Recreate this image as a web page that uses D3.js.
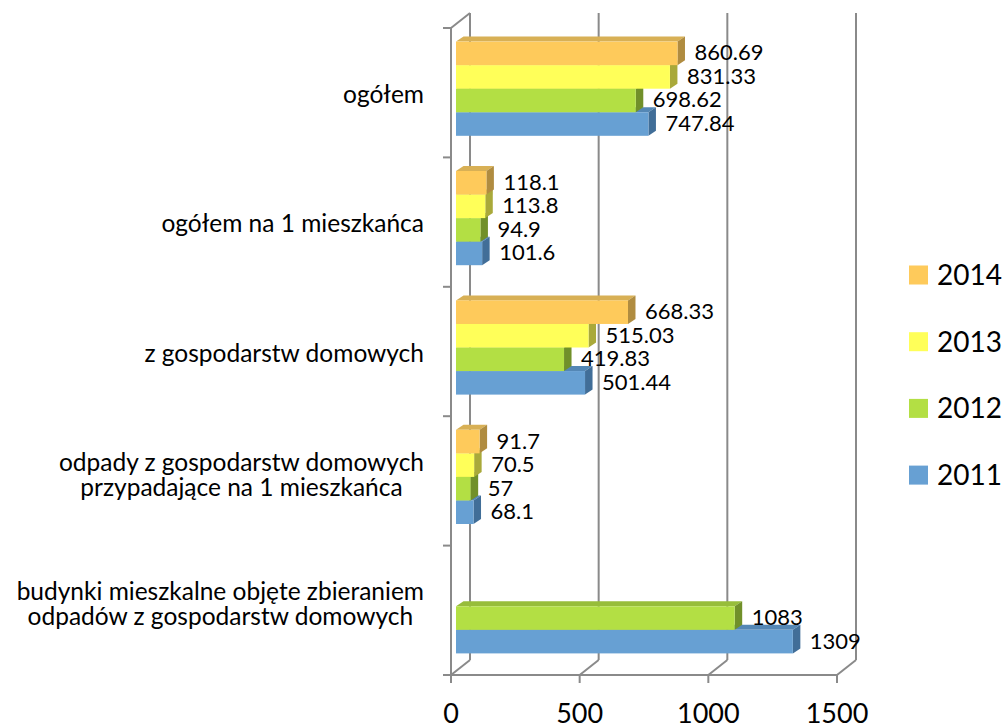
<!DOCTYPE html>
<html>
<head>
<meta charset="utf-8">
<script src="https://cdn.jsdelivr.net/npm/d3@7"></script>
<style>
  body { margin: 0; background: #fff; }
  text { font-family: Lato, "Open Sans", sans-serif; fill: #000; }
</style>
</head>
<body>
<div id="canvas"></div>
<script>
// ////////// DATA /////////////

var categories = [
  "ogółem",
  "ogółem na 1 mieszkańca",
  "z gospodarstw domowych",
  "odpady z gospodarstw domowych przypadające na 1 mieszkańca",
  "budynki mieszkalne objęte zbieraniem odpadów z gospodarstw domowych"
]

// how the category labels wrap
var categoryLines = [
  ["ogółem"],
  ["ogółem na 1 mieszkańca"],
  ["z gospodarstw domowych"],
  ["odpady z gospodarstw domowych", "przypadające na 1 mieszkańca"],
  ["budynki mieszkalne objęte zbieraniem", "odpadów z gospodarstw domowych"]
]

var years = ["2011", "2012", "2013", "2014"]

var values2011 = [747.84, 101.6, 501.44, 68.1, 1309]
var values2012 = [698.62, 94.9, 419.83, 57, 1083]
var values2013 = [831.33, 113.8, 515.03, 70.5, null]
var values2014 = [860.69, 118.1, 668.33, 91.7, null]

var xTicks = [0, 500, 1000, 1500]

var seriesValues = {
  "2011": values2011,
  "2012": values2012,
  "2013": values2013,
  "2014": values2014
}

///////// GLOBAL VARS //////////

var width = 1008,
  height = 728

// depth of the 3d box (floor / walls)
var DX = 19, DY = -15
// bars sit a little behind the front plane and have their own depth
var BX = 5, BY = -4, BDX = 7.5, BDY = -5

var colors = {
  "2014": { front: "#FECA5B", top: "#D8B055", side: "#B08C40" },
  "2013": { front: "#FFFF59", top: "#DADA50", side: "#A9A93A" },
  "2012": { front: "#B3DF44", top: "#97BD3A", side: "#71902A" },
  "2011": { front: "#67A0D3", top: "#5487B5", side: "#416E98" }
}

var gridColor = "#8a8a8a"

var svg = d3.select("#canvas")
  .append("svg")
  .attr("width", width)
  .attr("height", height)
  .style("background-color", "#fff")

// X scale (front plane)
var x = d3.scaleLinear()
  .domain([0, 1500])
  .range([451, 837])

// category bands
var y = d3.scaleBand()
  .domain(categories)
  .range([28, 675])

// series inside a band, 2014 on top
var inner = d3.scaleBand()
  .domain(years.slice().reverse())
  .range([17.6, y.bandwidth() - 17.6])

var top0 = y.range()[0], floor0 = y.range()[1]

///////// WALLS & GRID //////////

var grid = svg.append("g")
  .attr("fill", "none")
  .attr("stroke", gridColor)
  .attr("stroke-width", 2)

// back wall vertical gridlines
grid.selectAll(".vgrid")
  .data(xTicks)
  .join("line")
  .attr("x1", d => x(d) + DX)
  .attr("x2", d => x(d) + DX)
  .attr("y1", top0 + DY)
  .attr("y2", floor0 + DY)

// floor diagonals
grid.selectAll(".diag")
  .data(xTicks)
  .join("line")
  .attr("class", "diag")
  .attr("x1", d => x(d))
  .attr("x2", d => x(d) + DX)
  .attr("y1", floor0)
  .attr("y2", floor0 + DY)

// top of the side wall
grid.append("line")
  .attr("x1", x(0)).attr("y1", top0)
  .attr("x2", x(0) + DX).attr("y2", top0 + DY)

// front floor edge
grid.append("line")
  .attr("x1", x(0)).attr("y1", floor0)
  .attr("x2", x(1500)).attr("y2", floor0)

// front edge of the side wall
grid.append("line")
  .attr("x1", x(0)).attr("y1", top0)
  .attr("x2", x(0)).attr("y2", floor0)

// category ticks
var catTicks = categories.map(c => y(c)).concat([floor0])
grid.selectAll(".ytick")
  .data(catTicks)
  .join("line")
  .attr("class", "ytick")
  .attr("x1", x(0) - 8).attr("x2", x(0))
  .attr("y1", d => d).attr("y2", d => d)

// value ticks
grid.selectAll(".xtick")
  .data(xTicks)
  .join("line")
  .attr("class", "xtick")
  .attr("x1", d => x(d)).attr("x2", d => x(d))
  .attr("y1", floor0).attr("y2", floor0 + 8)

///////// BARS //////////

var bars = []
categories.forEach((c, ci) => {
  years.forEach(yr => {
    var v = seriesValues[yr][ci]
    if (v == null) return
    bars.push({ cat: c, year: yr, value: v })
  })
})

var barG = svg.append("g")

barG.selectAll("g.bar")
  .data(bars)
  .join("g")
  .attr("class", "bar")
  .each(function (d) {
    var g = d3.select(this)
    var x0 = x(0) + BX, x1 = x(d.value) + BX
    var y0 = y(d.cat) + inner(d.year) + BY
    var h = inner.bandwidth()
    var col = colors[d.year]

    // top face
    g.append("path")
      .attr("d", `M${x0},${y0}L${x1},${y0}L${x1 + BDX},${y0 + BDY}L${x0 + BDX},${y0 + BDY}Z`)
      .attr("fill", col.top)

    // side face
    g.append("path")
      .attr("d", `M${x1},${y0}L${x1 + BDX},${y0 + BDY}L${x1 + BDX},${y0 + h + BDY}L${x1},${y0 + h}Z`)
      .attr("fill", col.side)

    // front face
    g.append("rect")
      .attr("x", x0)
      .attr("y", y0)
      .attr("width", x1 - x0)
      .attr("height", h)
      .attr("fill", col.front)
  })

// value labels
svg.selectAll(".vlabel")
  .data(bars)
  .join("text")
  .attr("class", "vlabel")
  .attr("x", d => x(d.value) + BX + 17)
  .attr("y", d => y(d.cat) + inner(d.year) + BY + inner.bandwidth() / 2 + 7)
  .attr("font-size", 22)
  .text(d => String(d.value))

///////// AXIS LABELS //////////

svg.selectAll(".xlabel")
  .data(xTicks)
  .join("text")
  .attr("class", "xlabel")
  .attr("x", d => x(d))
  .attr("y", 723)
  .attr("text-anchor", "middle")
  .attr("font-size", 27)
  .text(d => d)

// category labels: lines centred on each other, block right aligned
var labelRight = 424
categories.forEach((c, ci) => {
  var lines = categoryLines[ci]
  var cy = y(c) + y.bandwidth() / 2
  var g = svg.append("g")
  var texts = lines.map((ln, i) => g.append("text")
    .attr("font-size", 24.5)
    .attr("y", lines.length > 1 ? cy - 10 + i * 25 : cy + 10)
    .text(ln))
  var maxW = d3.max(texts, t => t.node().getComputedTextLength())
  texts.forEach(t => t.attr("x", labelRight - maxW / 2).attr("text-anchor", "middle"))
})

///////// LEGEND //////////

var legendYears = years.slice().reverse()
var legend = svg.append("g")

legendYears.forEach((yr, i) => {
  var cy = 275 + i * 66.7
  legend.append("rect")
    .attr("x", 909)
    .attr("y", cy - 9.5)
    .attr("width", 19)
    .attr("height", 19)
    .attr("fill", colors[yr].front)

  legend.append("text")
    .attr("x", 937)
    .attr("y", cy + 10)
    .attr("font-size", 28)
    .text(yr)
})
</script>
</body>
</html>
